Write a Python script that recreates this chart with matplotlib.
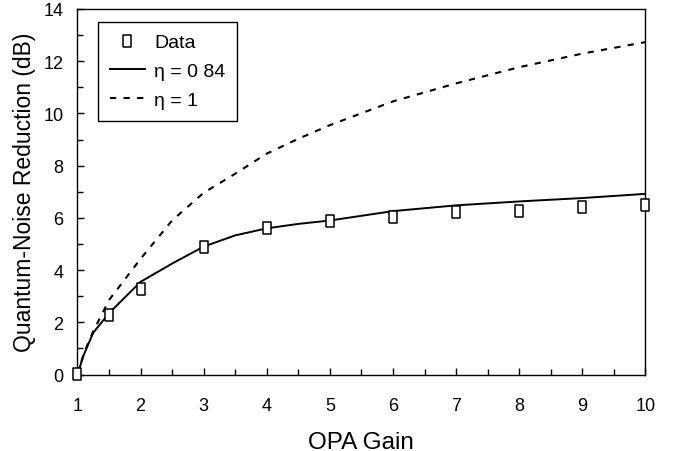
import matplotlib
matplotlib.use("Agg")
import matplotlib.pyplot as plt
from matplotlib.ticker import MultipleLocator

plt.rcParams['font.family'] = ['Liberation Sans', 'DejaVu Sans']

# Measured data
data_gain = [1, 1.5, 2, 3, 4, 5, 6, 7, 8, 9, 10]
data_nr = [0.02, 2.3, 3.28, 4.9, 5.61, 5.88, 6.04, 6.23, 6.27, 6.42, 6.5]

# Theory eta = 0.84
fit_gain = [1, 1.1, 1.25, 1.5, 2, 2.5, 3, 3.5, 4, 4.5, 5, 6, 7, 8, 9, 10]
fit_nr = [0, 0.75, 1.6, 2.35, 3.55, 4.25, 4.9, 5.33, 5.6, 5.77, 5.9, 6.26, 6.48, 6.63, 6.76, 6.92]

# Theory eta = 1
ideal_gain = [1, 1.1, 1.25, 1.5, 2, 2.5, 3, 3.5, 4, 4.5, 5, 6, 7, 8, 9, 10]
ideal_nr = [0, 0.8, 1.65, 2.85, 4.43, 5.9, 6.96, 7.69, 8.46, 9.03, 9.55, 10.46, 11.15, 11.77, 12.29, 12.73]

rect = [(-0.7, -1), (0.7, -1), (0.7, 1), (-0.7, 1), (-0.7, -1)]

fig = plt.figure(figsize=(6.73, 4.52), dpi=100)
ax = fig.add_axes([0.115, 0.169, 0.844, 0.809])

ax.plot(fit_gain, fit_nr, color='black', lw=1.4, label='η = 0 84')
ax.plot(ideal_gain, ideal_nr, color='black', lw=1.5, ls=(0, (3, 3.5)), label='η = 1')
ax.plot(data_gain, data_nr, ls='none', marker=rect, ms=8, mfc='white', mec='black',
        mew=1.1, label='Data', clip_on=False, zorder=5)

ax.set_xlim(1, 10)
ax.set_ylim(0, 14)
ax.xaxis.set_major_locator(MultipleLocator(1))
ax.xaxis.set_minor_locator(MultipleLocator(0.5))
ax.yaxis.set_major_locator(MultipleLocator(2))
ax.yaxis.set_minor_locator(MultipleLocator(1))
ax.tick_params(which='both', direction='in', top=False, right=False, labelsize=13)
ax.tick_params(which='major', length=5, width=1)
ax.tick_params(which='minor', length=4, width=1)
ax.tick_params(axis='x', which='major', pad=16)
ax.tick_params(axis='y', which='major', pad=10)
for s in ax.spines.values():
    s.set_linewidth(1)

ax.set_xlabel('OPA Gain', fontsize=17.5, labelpad=12)
ax.set_ylabel('Quantum-Noise Reduction (dB)', fontsize=16.5, labelpad=5)

handles, labels = ax.get_legend_handles_labels()
order = [2, 0, 1]
leg = ax.legend([handles[i] for i in order], [labels[i] for i in order],
                loc='upper left', bbox_to_anchor=(0.036, 0.964), fontsize=14,
                frameon=True, fancybox=False, edgecolor='black', framealpha=1,
                handlelength=1.8, borderpad=0.6, labelspacing=0.58, handletextpad=0.5,
                borderaxespad=0)
leg.get_frame().set_linewidth(1)

fig.savefig('out.png', dpi=100)
